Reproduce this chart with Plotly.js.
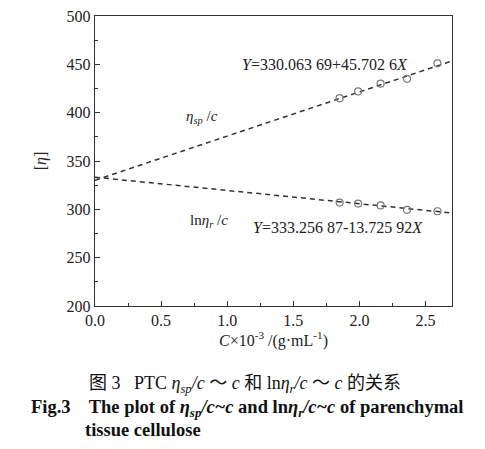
<!DOCTYPE html>
<html><head><meta charset="utf-8">
<script src="https://cdn.plot.ly/plotly-3.0.1.min.js"></script>
<style>body{margin:0;background:#fff}#c{width:485px;height:449px}</style>
</head><body><div id="c"></div>
<script>
// Measured data (C x 10^-3 g/mL)
const concentration = [1.85, 1.99, 2.16, 2.36, 2.59];
const etaSpOverC = [415, 422, 430, 435, 451];
const lnEtaROverC = [307, 306, 304, 299.5, 298];
// Linear fit coefficients from the figure
const fitSp = {intercept: 330.06369, slope: 45.7026};
const fitLn = {intercept: 333.25687, slope: -13.72592};
const fitRange = [0, 2.7];

const fitX = fitRange;
const lineY = f => fitX.map(x => f.intercept + f.slope * x);

const serif = "Liberation Serif, Times New Roman, serif";
const traces = [
  {x: fitX, y: lineY(fitSp), mode: 'lines', line: {color: '#333', dash: '5px,4px', width: 1.5}, hoverinfo: 'skip'},
  {x: fitX, y: lineY(fitLn), mode: 'lines', line: {color: '#333', dash: '5px,4px', width: 1.5}, hoverinfo: 'skip'},
  {x: concentration, y: etaSpOverC, mode: 'markers', marker: {symbol: 'circle-open', size: 7, color: '#777', line: {width: 1.2}}},
  {x: concentration, y: lnEtaROverC, mode: 'markers', marker: {symbol: 'circle-open', size: 7, color: '#777', line: {width: 1.2}}}
];

const layout = {
  width: 485, height: 449,
  margin: {l: 95, r: 33, t: 16, b: 143},
  showlegend: false,
  paper_bgcolor: '#fff', plot_bgcolor: '#fff',
  font: {family: serif, size: 16, color: '#222'},
  xaxis: {
    range: fitRange, dtick: 0.5, tick0: 0, tickformat: '.1f',
    showgrid: false, zeroline: false, showline: true, linecolor: '#333', linewidth: 1.2, mirror: true,
    ticks: 'inside', ticklen: 5, tickcolor: '#333',
    minor: {ticks: 'inside', dtick: 0.25, ticklen: 3, tickcolor: '#333'},
    title: {text: '<i>C</i>×10<sup>-3</sup> /(g·mL<sup>-1</sup>)', font: {size: 16}, standoff: 5}
  },
  yaxis: {
    range: [200, 500], dtick: 50,
    showgrid: false, zeroline: false, showline: true, linecolor: '#333', linewidth: 1.2, mirror: true,
    ticks: 'inside', ticklen: 5, tickcolor: '#333',
    minor: {ticks: 'inside', dtick: 25, ticklen: 3, tickcolor: '#333'},
    title: {text: '[<i>η</i>]', font: {size: 16}, standoff: 16}
  },
  annotations: [
    {x: 1.74, y: 450, xref: 'x', yref: 'y', text: '<i>Y</i>=330.063 69+45.702 6<i>X</i>', showarrow: false, font: {size: 16}},
    {x: 0.81, y: 396, xref: 'x', yref: 'y', text: '<i>η<sub>sp</sub></i> /<i>c</i>', showarrow: false, font: {size: 15}},
    {x: 0.86, y: 288, xref: 'x', yref: 'y', text: 'ln<i>η<sub>r</sub></i> /<i>c</i>', showarrow: false, font: {size: 15}},
    {x: 1.84, y: 281, xref: 'x', yref: 'y', text: '<i>Y</i>=333.256 87-13.725 92<i>X</i>', showarrow: false, font: {size: 16}},
    {x: 0.42, y: -0.272, xref: 'paper', yref: 'paper', xanchor: 'center', yanchor: 'middle', showarrow: false,
     text: '图 3   PTC <i>η<sub>sp</sub>/c</i> ～ <i>c</i> 和 ln<i>η<sub>r</sub>/c</i> ～ <i>c</i> 的关系',
     font: {family: "Liberation Serif, Noto Sans CJK SC", size: 18, color: '#111'}},
    {x: -0.185, y: -0.352, xref: 'paper', yref: 'paper', xanchor: 'left', yanchor: 'middle', showarrow: false,
     text: '<b>Fig.3    The plot of <i>η<sub>sp</sub>/c~c</i> and ln<i>η<sub>r</sub>/c~c</i> of parenchymal</b>',
     font: {family: serif, size: 18.5, color: '#111'}},
    {x: -0.034, y: -0.428, xref: 'paper', yref: 'paper', xanchor: 'left', yanchor: 'middle', showarrow: false,
     text: '<b>tissue cellulose</b>',
     font: {family: serif, size: 18.5, color: '#111'}}
  ]
};
Plotly.newPlot('c', traces, layout, {staticPlot: true, displayModeBar: false});
</script></body></html>
